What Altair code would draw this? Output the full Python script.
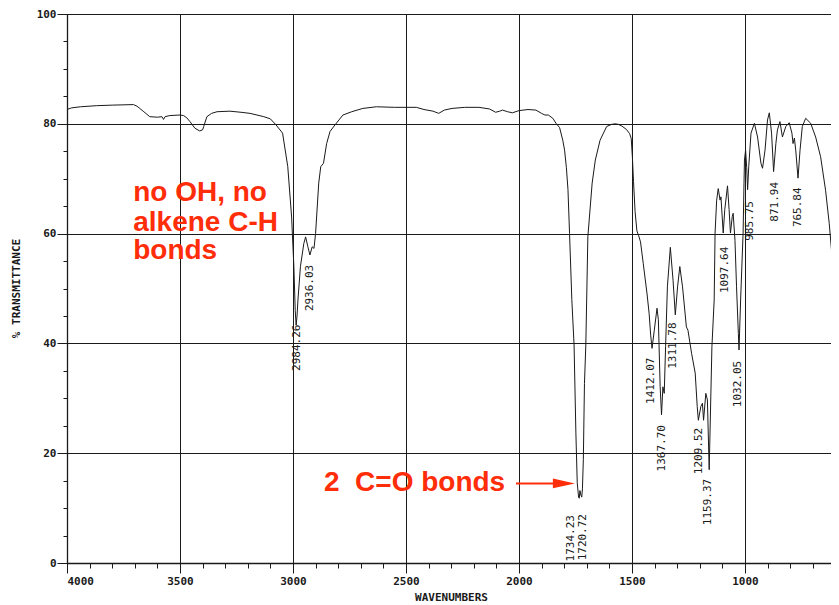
import altair as alt
import pandas as pd

# ---------------- data ----------------
wavenumber = [4000, 3980, 3940, 3869, 3800, 3706, 3690, 3678, 3660, 3634,
              3600, 3580, 3573, 3566, 3545, 3500, 3484, 3470, 3456, 3434,
              3413, 3400, 3395, 3381, 3360, 3336, 3279, 3230, 3190, 3129,
              3100, 3075, 3046, 3023, 3006, 2996, 2990, 2986, 2982, 2978,
              2967, 2952, 2944, 2934, 2925, 2915, 2907, 2900, 2886, 2877,
              2865, 2851, 2836, 2814, 2779, 2740, 2691, 2631, 2550, 2454,
              2420, 2380, 2355, 2330, 2296, 2240, 2177, 2130, 2103, 2085,
              2073, 2050, 2029, 2000, 1960, 1925, 1900, 1885, 1870, 1850,
              1836, 1820, 1806, 1798, 1790, 1783, 1776, 1766, 1756, 1748,
              1742, 1736, 1733, 1730, 1726, 1722, 1719, 1715, 1710, 1704,
              1695, 1676, 1662, 1641, 1612, 1590, 1574, 1560, 1545, 1525,
              1510, 1503, 1498, 1493, 1486, 1478, 1470, 1462, 1450, 1433,
              1424, 1417, 1411, 1401, 1389, 1383, 1375, 1369, 1363, 1357,
              1351, 1343, 1330, 1318, 1308, 1298, 1288, 1276, 1259, 1252,
              1236, 1220, 1211, 1206, 1195, 1188, 1183, 1173, 1166, 1158,
              1146, 1136, 1132, 1125, 1118, 1110, 1106, 1096, 1089, 1077,
              1070, 1064, 1056, 1052, 1044, 1037, 1029, 1026, 1019, 1008,
              1004, 1002, 997, 992, 988, 983, 973, 958, 944, 929,
              922, 911, 900, 892, 882, 873, 863, 856, 845, 834,
              819, 804, 792, 787, 781, 775, 765, 756, 746, 731,
              709, 687, 665, 643, 627, 613, 600, 590]

transmittance = [82.6, 82.9, 83.1, 83.3, 83.4, 83.5, 83.2, 82.8, 82.2, 81.3,
                 81.2, 81.3, 80.8, 81.3, 81.5, 81.6, 81.5, 81.1, 80.4, 79.2,
                 78.7, 78.9, 79.5, 81.3, 81.9, 82.2, 82.3, 82.1, 81.9, 81.3,
                 80.9, 79.8, 78.3, 72.2, 63.0, 54.0, 46.0, 43.3, 45.0, 47.9,
                 54.0, 58.2, 59.4, 57.6, 56.1, 57.6, 57.3, 60.0, 69.2, 72.2,
                 72.8, 76.4, 78.6, 79.8, 81.6, 82.2, 82.8, 83.1, 83.0, 83.0,
                 82.6, 82.3, 81.9, 82.5, 82.8, 83.0, 83.0, 82.7, 82.1, 82.3,
                 82.5, 82.2, 82.0, 82.4, 82.6, 82.5, 81.9, 81.6, 81.6, 81.0,
                 80.1, 79.3, 77.0, 75.2, 72.0, 68.0, 60.0, 48.0, 39.7, 23.7,
                 14.6, 12.0, 11.8, 13.2, 12.4, 12.0, 13.5, 18.8, 32.7, 39.7,
                 59.4, 69.2, 73.4, 77.0, 79.5, 79.9, 80.0, 79.9, 79.6, 79.0,
                 78.2, 77.3, 74.0, 69.5, 64.0, 60.5, 59.6, 58.5, 54.6, 49.0,
                 45.5, 41.5, 39.1, 42.4, 46.4, 44.3, 32.1, 27.0, 32.1, 30.9,
                 39.4, 50.3, 57.5, 51.5, 45.2, 50.3, 54.0, 50.3, 43.0, 42.4,
                 38.2, 34.6, 28.5, 26.0, 28.5, 29.1, 26.0, 30.9, 29.7, 17.0,
                 39.4, 47.9, 60.1, 66.1, 68.2, 66.1, 66.7, 60.1, 64.4, 68.7,
                 64.4, 60.1, 63.1, 63.7, 58.8, 50.3, 41.8, 38.8, 47.9, 60.1,
                 69.2, 73.4, 75.2, 72.0, 68.0, 72.2, 78.3, 80.1, 77.6, 72.8,
                 71.9, 75.2, 80.7, 82.0, 78.3, 71.3, 76.4, 78.9, 80.4, 77.6,
                 79.5, 80.2, 78.3, 76.4, 77.4, 75.2, 70.1, 75.2, 79.5, 81.0,
                 80.1, 77.6, 74.0, 67.9, 61.9, 55.2, 47.5, 42.0]

peak_text = ["2984.26", "2936.03", "1734.23", "1720.72", "1412.07", "1367.70",
             "1311.78", "1209.52", "1159.37", "1097.64", "1032.05", "985.75",
             "871.94", "765.84"]
peak_wn = [2980, 2926, 1768, 1717, 1414, 1369, 1319, 1203, 1165, 1089, 1030, 976, 866, 764]
peak_t = [39.2, 50.1, 4.5, 4.7, 33.2, 20.9, 39.6, 20.4, 11.1, 53.4, 32.6, 62.3, 65.8, 64.8]

note_lines = ["no OH, no", "alkene C-H", "bonds"]
note_wn = [3707, 3707, 3707]
note_t = [65.9, 60.5, 55.3]

co_text = ["2\u00a0 C=O bonds"]
co_wn = [2863]
co_t = [13.2]

arrow_start_wn = [2013]
arrow_end_wn = [1836]
arrow_head_wn = [1801]
arrow_t = [14.5]

major_x = [4000, 3500, 3000, 2500, 2000, 1500, 1000]
minor_x = [4000, 3900, 3800, 3700, 3600, 3500, 3400, 3300, 3200, 3100, 3000,
           2900, 2800, 2700, 2600, 2500, 2400, 2300, 2200, 2100, 2000, 1900,
           1800, 1700, 1600, 1500, 1400, 1300, 1200, 1100, 1000, 900, 800,
           700]
major_y = [0, 20, 40, 60, 80, 100]
minor_y = [0, 5, 10, 15, 20, 25, 30, 35, 40, 45, 50, 55, 60, 65, 70, 75, 80,
           85, 90, 95, 100]

# ---------------- tables ----------------
spec_df = pd.DataFrame({"wn": wavenumber, "t": transmittance})
peak_df = pd.DataFrame({"wn": peak_wn, "t": peak_t, "label": peak_text})
note_df = pd.DataFrame({"wn": note_wn, "t": note_t, "label": note_lines})
co_df = pd.DataFrame({"wn": co_wn, "t": co_t, "label": co_text})
shaft_df = pd.DataFrame({"wn": arrow_start_wn, "wn2": arrow_end_wn, "t": arrow_t})
head_df = pd.DataFrame({"wn": arrow_head_wn, "t": arrow_t})

MONO = "DejaVu Sans Mono"
SANS = "Liberation Sans"
RED = "#ff2d0a"
INK = "#1a1a1a"

xs = alt.Scale(domain=[4000, 619], nice=False, zero=False)
ys = alt.Scale(domain=[0, 100], nice=False, zero=False)

line = alt.Chart(spec_df).mark_line(color=INK, strokeWidth=1, clip=True).encode(
    x=alt.X("wn:Q", scale=xs, axis=alt.Axis(
        orient="bottom", values=major_x, format="d", grid=True, gridColor=INK,
        gridWidth=1, gridOpacity=1, tickSize=10, tickColor=INK, tickWidth=1,
        domainColor=INK, domainWidth=1.3, labelFlush=True, labelFont=MONO,
        labelFontSize=11, labelFontWeight="bold", labelColor=INK, labelPadding=2,
        title="WAVENUMBERS", titleFont=MONO, titleFontSize=11,
        titleFontWeight="bold", titleColor=INK, titleX=384, titleY=34,
        titleAlign="center", titleBaseline="middle")),
    y=alt.Y("t:Q", scale=ys, axis=alt.Axis(
        orient="left", values=major_y, format="d", grid=True, gridColor=INK,
        gridWidth=1, gridOpacity=1, tickSize=10, tickColor=INK, tickWidth=1,
        domainColor=INK, domainWidth=1.3, labelFont=MONO, labelFontSize=11,
        labelFontWeight="bold", labelColor=INK, labelPadding=1,
        title="% TRANSMITTANCE", titleFont=MONO, titleFontSize=11,
        titleFontWeight="bold", titleColor=INK, titleX=-51, titleY=274,
        titleAngle=270, titleAlign="center", titleBaseline="middle")),
)

peaks = alt.Chart(peak_df).mark_text(
    angle=270, font=MONO, fontSize=11, color=INK, align="center", baseline="middle"
).encode(
    x=alt.X("wn:Q", scale=xs, axis=alt.Axis(
        orient="bottom", values=minor_x, grid=False, labels=False, domain=False,
        tickSize=5, tickColor=INK, tickWidth=1, title=None)),
    y=alt.Y("t:Q", scale=ys, axis=alt.Axis(
        orient="left", values=minor_y, grid=False, labels=False, domain=False,
        tickSize=4, tickColor=INK, tickWidth=1, title=None)),
    text="label:N",
)

notes = alt.Chart(note_df).mark_text(
    font=SANS, fontSize=28, fontWeight="bold", color=RED, align="left",
    baseline="alphabetic"
).encode(
    x=alt.X("wn:Q", scale=xs, axis=None),
    y=alt.Y("t:Q", scale=ys, axis=None),
    text="label:N",
)

co_note = alt.Chart(co_df).mark_text(
    font=SANS, fontSize=28, fontWeight="bold", color=RED, align="left",
    baseline="alphabetic"
).encode(
    x=alt.X("wn:Q", scale=xs, axis=None),
    y=alt.Y("t:Q", scale=ys, axis=None),
    text="label:N",
)

shaft = alt.Chart(shaft_df).mark_rule(color=RED, strokeWidth=2).encode(
    x=alt.X("wn:Q", scale=xs, axis=None),
    x2="wn2:Q",
    y=alt.Y("t:Q", scale=ys, axis=None),
)

head = alt.Chart(head_df).mark_point(
    shape="M -1 -0.45 L 1 0 L -1 0.45 Z", filled=True, size=484, color=RED,
    opacity=1, strokeWidth=0
).encode(
    x=alt.X("wn:Q", scale=xs, axis=None),
    y=alt.Y("t:Q", scale=ys, axis=None),
)

chart = alt.layer(line, peaks, notes, co_note, shaft, head).resolve_axis(
    x="independent", y="independent"
).properties(
    width=764, height=549,
    padding={"left": 59, "top": 6, "right": 0, "bottom": 41},
    autosize=alt.AutoSizeParams(type="none"),
    background="white",
).configure_view(stroke=None)

chart.save("out.html", embed_options={"renderer": "svg", "actions": False})
